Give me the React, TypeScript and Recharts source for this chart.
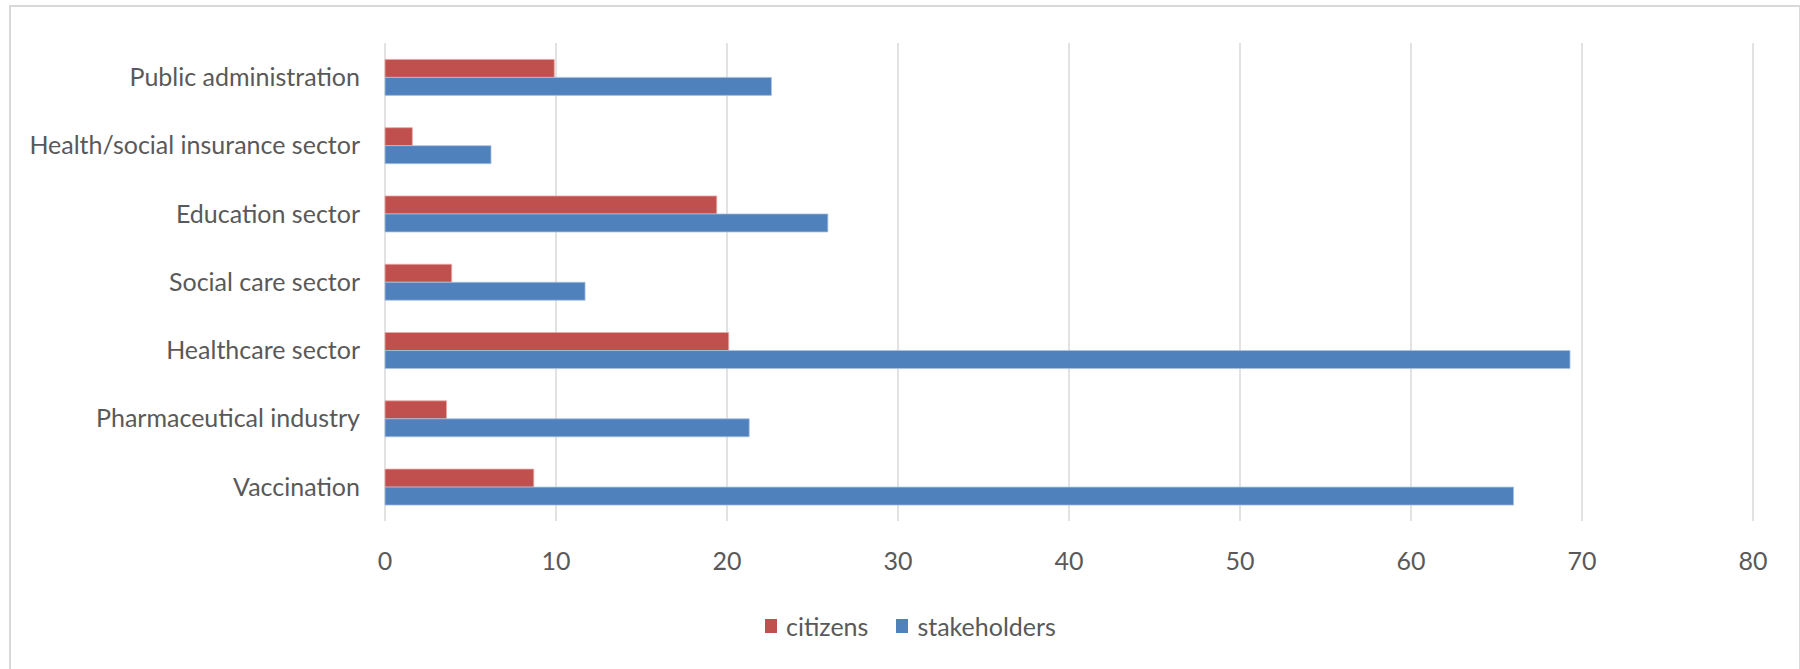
import React from 'react';
import { BarChart, Bar, XAxis, YAxis, CartesianGrid, Legend } from 'recharts';

const categories = [
    'Public administration',
    'Health/social insurance sector',
    'Education sector',
    'Social care sector',
    'Healthcare sector',
    'Pharmaceutical industry',
    'Vaccination',
];
const citizens = [9.9, 1.6, 19.4, 3.9, 20.1, 3.6, 8.7];
const stakeholders = [22.6, 6.2, 25.9, 11.7, 69.3, 21.3, 66.0];
const xTicks = [0, 10, 20, 30, 40, 50, 60, 70, 80];

const data = categories.map((name, i) => ({
    name,
    citizens: citizens[i],
    stakeholders: stakeholders[i],
}));

const FONT = "Lato, 'Open Sans', sans-serif";
const TEXT = '#595959';
const RED = '#C0504D';
const BLUE = '#4F81BD';

const renderLegend = (props: any) => {
    const { payload } = props;
    return (
        <div style={{ display: 'flex', alignItems: 'center', marginLeft: 765, height: 30, fontFamily: FONT, fontSize: 25, color: TEXT }}>
            {payload.map((entry: any, i: number) => (
                <div key={entry.value} style={{ display: 'flex', alignItems: 'center', marginRight: i === 0 ? 28 : 0 }}>
                    <span style={{ display: 'inline-block', width: 12, height: 14, background: entry.color, marginRight: 9 }} />
                    <span>{entry.value}</span>
                </div>
            ))}
        </div>
    );
};

export default function App() {
    return (
        <div style={{ position: 'absolute', left: 0, top: 0, width: 1800, height: 669, background: '#fff', overflow: 'hidden' }}>
            <div style={{ position: 'absolute', left: 9, top: 5, width: 1788, height: 680, border: '2px solid #d9d9d9' }} />
            <div style={{ position: 'absolute', left: 0, top: 0 }}>
                <BarChart
                    width={1800}
                    height={669}
                    data={data}
                    layout="vertical"
                    margin={{ top: 43, right: 47, left: 15, bottom: 58 }}
                    barCategoryGap="24%"
                    barGap={0}
                >
                    <CartesianGrid horizontal={false} stroke="#d9d9d9" strokeWidth={1.5} />
                    <XAxis
                        type="number"
                        domain={[0, 80]}
                        ticks={xTicks}
                        axisLine={false}
                        tickLine={false}
                        tickSize={0}
                        tickMargin={31}
                        height={60}
                        tick={{ fill: TEXT, fontSize: 25, fontFamily: FONT }}
                    />
                    <YAxis
                        type="category"
                        dataKey="name"
                        width={370}
                        axisLine={false}
                        tickLine={false}
                        tickSize={0}
                        tickMargin={25}
                        tick={{ fill: TEXT, fontSize: 25, fontFamily: FONT }}
                    />
                    <Legend
                        content={renderLegend}
                        wrapperStyle={{ position: 'absolute', top: 611, left: 0, width: 1800, height: 30 }}
                    />
                    <Bar dataKey="citizens" name="citizens" fill={RED} stroke="#e8a9a7" strokeWidth={0.8} isAnimationActive={false} />
                    <Bar dataKey="stakeholders" name="stakeholders" fill={BLUE} stroke="#a9c1e0" strokeWidth={0.8} isAnimationActive={false} />
                </BarChart>
            </div>
        </div>
    );
}
